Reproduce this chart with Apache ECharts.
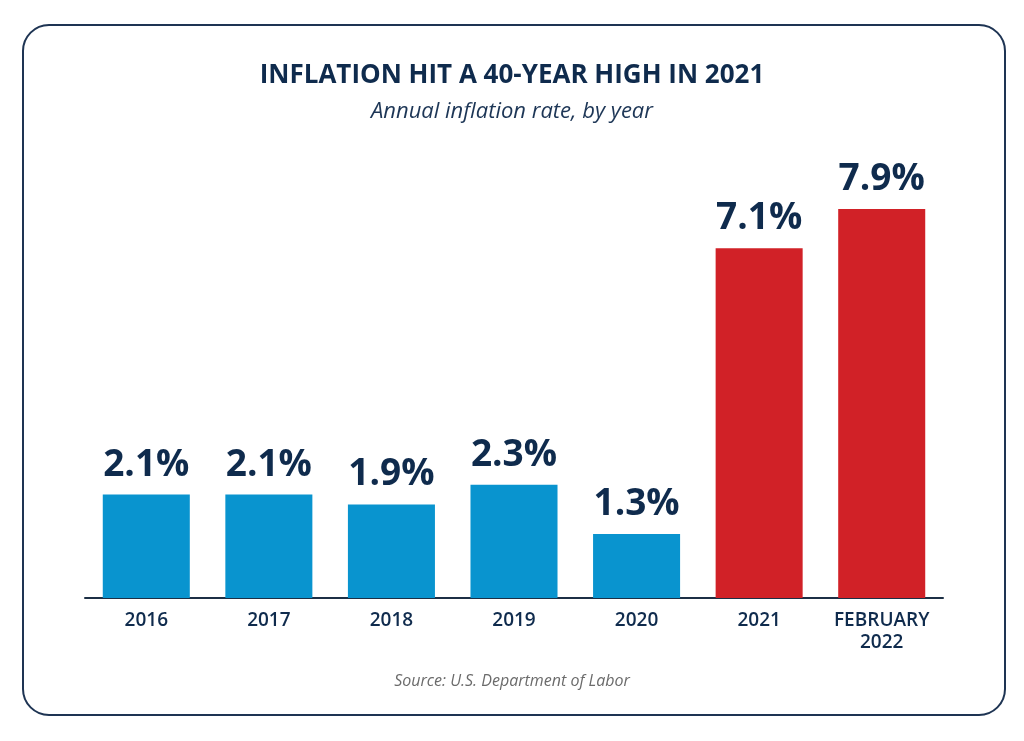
<!DOCTYPE html>
<html>
<head>
<meta charset="utf-8">
<script src="https://cdn.jsdelivr.net/npm/echarts@6/dist/echarts.min.js"></script>
<style>
html,body{margin:0;padding:0;background:#fff;}
#chart{width:1024px;height:741px;}
</style>
</head>
<body>
<div id="chart"></div>
<script>
const categories = ['2016', '2017', '2018', '2019', '2020', '2021', 'FEBRUARY\n2022'];
const inflationRates = [2.1, 2.1, 1.9, 2.3, 1.3, 7.1, 7.9];
const highlightFromIndex = 5;

const NAVY = '#0f2b4d';
const BLUE = '#0994cf';
const RED = '#d12127';
const FONT = '"Open Sans", "Noto Sans", sans-serif';

const chart = echarts.init(document.getElementById('chart'));
chart.setOption({
  backgroundColor: '#ffffff',
  animation: false,
  textStyle: { fontFamily: FONT },
  title: [
    {
      text: 'INFLATION HIT A 40-YEAR HIGH IN 2021',
      left: 'center', top: 58,
      textStyle: { fontFamily: FONT, fontSize: 26, fontWeight: 'bold', color: NAVY }
    },
    {
      text: 'Annual inflation rate, by year',
      left: 'center', top: 96,
      textStyle: { fontFamily: FONT, fontSize: 22, fontStyle: 'italic', fontWeight: 'normal', color: '#1d3656' }
    },
    {
      text: 'Source: U.S. Department of Labor',
      left: 'center', top: 668,
      textStyle: { fontFamily: FONT, fontSize: 16, fontStyle: 'italic', fontWeight: 'normal', color: '#6b6b6b' }
    }
  ],
  graphic: [
    {
      type: 'rect',
      shape: { x: 23, y: 25, width: 982, height: 690, r: 26 },
      style: { fill: 'none', stroke: '#1e3453', lineWidth: 2 },
      z: -1
    }
  ],
  grid: { left: 85, right: 81, top: 204, bottom: 143 },
  xAxis: {
    type: 'category',
    data: categories,
    axisLine: { lineStyle: { color: '#1c2f45', width: 2 } },
    axisTick: { show: false },
    axisLabel: {
      margin: 12,
      fontFamily: FONT, fontSize: 19, fontWeight: 600, color: NAVY,
      lineHeight: 22, interval: 0
    }
  },
  yAxis: {
    type: 'value', min: 0, max: 8,
    show: false,
    splitLine: { show: false }
  },
  series: [{
    type: 'bar',
    data: inflationRates,
    barCategoryGap: '29%',
    itemStyle: {
      color: p => p.dataIndex >= highlightFromIndex ? RED : BLUE
    },
    label: {
      show: true,
      position: 'top',
      distance: 11,
      formatter: p => p.value.toFixed(1) + '%',
      fontFamily: FONT, fontSize: 37, fontWeight: 'bold', color: NAVY
    }
  }]
});
</script>
</body>
</html>
